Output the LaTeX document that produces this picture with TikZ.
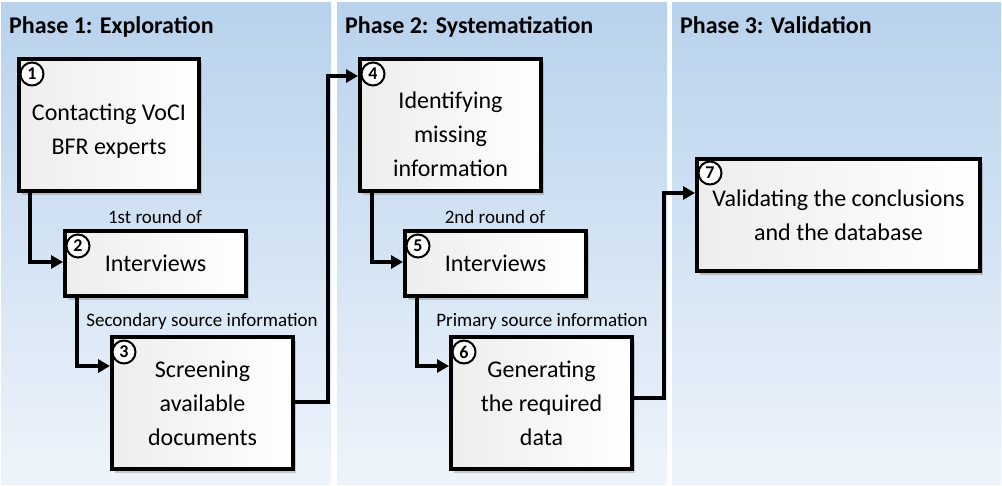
\documentclass[tikz,border=0pt]{standalone}
\usepackage{fontspec}
\setmainfont{Carlito}
\usetikzlibrary{shadows,arrows.meta}
\definecolor{paneltop}{RGB}{184,210,236}
\definecolor{panelbot}{RGB}{238,244,251}
\tikzset{
  box/.style={draw=black, line width=4pt, left color=black!7, right color=white,
    minimum width=#1, align=center, inner sep=2pt,
    drop shadow={shadow xshift=3pt, shadow yshift=-4pt, opacity=0.3, fill=black!60},
    font=\fontsize{24}{34}\selectfont},
  num/.style={draw=black, circle, line width=2pt, minimum size=23pt, inner sep=0pt,
    font=\bfseries\fontsize{18}{18}\selectfont, fill=white},
  conn/.style={draw=black, line width=4pt, -{Triangle[length=12pt,width=13pt]}},
  lbl/.style={font=\fontsize{19}{19}\selectfont, inner sep=0pt},
  phase/.style={font=\bfseries\fontsize{24}{24}\selectfont, anchor=base west, inner sep=0pt},
}
\begin{document}
\begin{tikzpicture}[x=1pt,y=-1pt]
\useasboundingbox (0,0) rectangle (1002,485);
\fill[white] (0,0) rectangle (1002,485);
% panels
\shade[top color=paneltop, bottom color=panelbot] (1,2) rectangle (331,484);
\shade[top color=paneltop, bottom color=panelbot] (337,2) rectangle (667,484);
\shade[top color=paneltop, bottom color=panelbot] (672,2) rectangle (1001,484);
\node[phase] (p1) at (9,33) {Phase 1: Exploration};
\node[phase] (p2) at (345,33) {Phase 2: Systematization};
\node[phase] (p3) at (680,33) {Phase 3: Validation};
% boxes
\node[box=180pt, minimum height=132pt] (b1) at (109,125) {\rule{0pt}{28pt}Contacting VoCI\\BFR experts};
\node[box=181pt, minimum height=65pt] (b2) at (155.5,263.5) {Interviews};
\node[box=181pt, minimum height=132pt] (b3) at (202.5,403) {Screening\\available\\documents};
\node[box=181pt, minimum height=132pt] (b4) at (450.5,125) {\rule{0pt}{35pt}Identifying\\missing\\information};
\node[box=181pt, minimum height=65pt] (b5) at (495.5,263.5) {Interviews};
\node[box=181pt, minimum height=132pt] (b6) at (541.5,403) {Generating\\the required\\data};
\node[box=283pt, minimum height=112pt] (b7) at (838.5,215) {Validating the conclusions\\and the database};
% numbers
\node[num] (n1) at (32,74) {1};
\node[num] (n2) at (78,246) {2};
\node[num] (n3) at (124,352) {3};
\node[num] (n4) at (373,74) {4};
\node[num] (n5) at (418,246) {5};
\node[num] (n6) at (464,352) {6};
\node[num] (n7) at (710,173) {7};
% labels
\node[lbl] (l1) at (155,217) {1st round of};
\node[lbl] (l2) at (202,321) {Secondary source information};
\node[lbl] (l3) at (495,217) {2nd round of};
\node[lbl] (l4) at (542,321) {Primary source information};
% connectors
\coordinate (c3) at (328,402);
\coordinate (c6) at (664,398);
\draw[conn] (b1.south -| 30,0) |- (b2.west |- 0,262);
\draw[conn] (b2.south -| 77,0) |- (b3.west |- 0,366);
\draw[conn] (b3.east |- c3) -- (c3) |- (b4.west |- 0,76);
\draw[conn] (b4.south -| 372,0) |- (b5.west |- 0,262);
\draw[conn] (b5.south -| 417,0) |- (b6.west |- 0,366);
\draw[conn] (b6.east |- c6) -- (c6) |- (b7.west |- 0,193);
\end{tikzpicture}
\end{document}
